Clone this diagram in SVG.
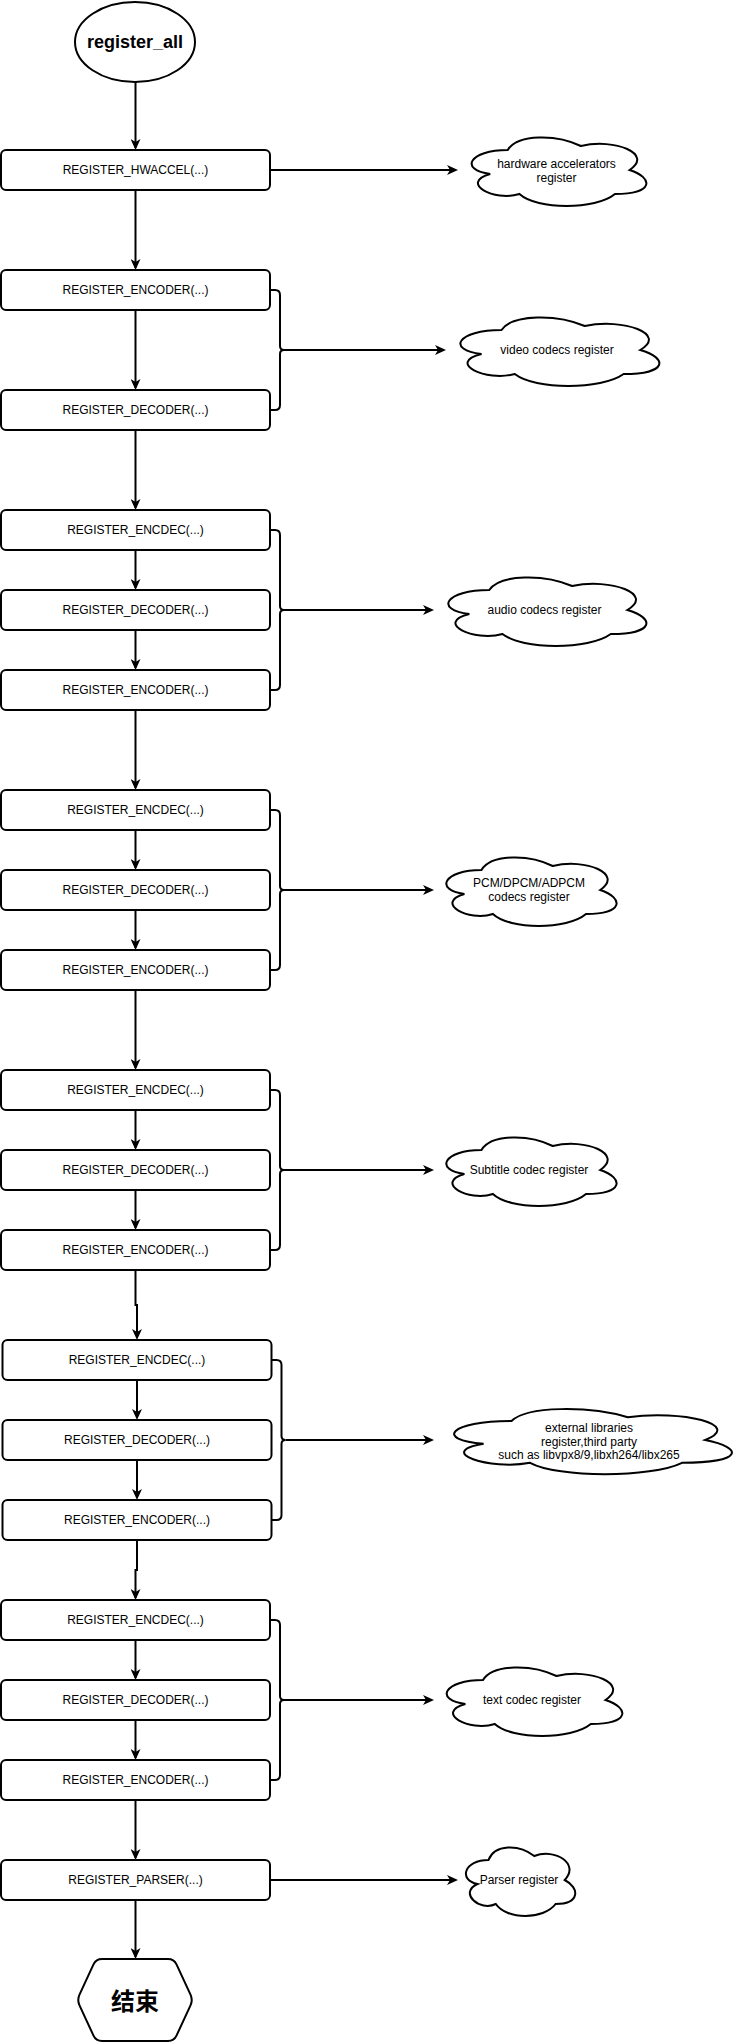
<svg xmlns="http://www.w3.org/2000/svg" width="742" height="2042" viewBox="0 0 742 2042">
<style>
.box{fill:#fff;stroke:#000;stroke-width:2}
.ln{fill:none;stroke:#000;stroke-width:2}
.arr{fill:none;stroke:#000;stroke-width:2;marker-end:url(#ah)}
.t{font-family:"Liberation Sans",Arial,sans-serif;font-size:12px;fill:#000;text-anchor:middle}
.cl{fill:#fff;stroke:#000;stroke-width:2}
</style>
<defs>
<marker id="ah" viewBox="0 0 11 10" refX="9" refY="5" markerWidth="11" markerHeight="10" markerUnits="userSpaceOnUse" orient="auto"><path d="M0,0 L11,5 L0,10 L3,5 Z" fill="#000"/></marker>
</defs>
<rect width="742" height="2042" fill="#fff"/>

<g id="connectors">
<path class="arr" d="M135.5,82 V148"/>
<path class="arr" d="M135.5,190 V268"/>
<path class="arr" d="M135.5,310 V388"/>
<path class="arr" d="M135.5,430 V508"/>
<path class="arr" d="M135.5,550 V588"/>
<path class="arr" d="M135.5,630 V668"/>
<path class="arr" d="M135.5,710 V788"/>
<path class="arr" d="M135.5,830 V868"/>
<path class="arr" d="M135.5,910 V948"/>
<path class="arr" d="M135.5,990 V1068"/>
<path class="arr" d="M135.5,1110 V1148"/>
<path class="arr" d="M135.5,1190 V1228"/>
<path class="arr" d="M135.5,1270 V1305 H137 V1338"/>
<path class="arr" d="M137,1380 V1418"/>
<path class="arr" d="M137,1460 V1498"/>
<path class="arr" d="M137,1540 V1570 H135.5 V1598"/>
<path class="arr" d="M135.5,1640 V1678"/>
<path class="arr" d="M135.5,1720 V1758"/>
<path class="arr" d="M135.5,1800 V1858"/>
<path class="arr" d="M135.5,1900 V1957"/>
<path class="arr" d="M270,170 H456"/>
<path class="arr" d="M284,350 H444"/>
<path class="arr" d="M284,610 H432"/>
<path class="arr" d="M284,890 H432"/>
<path class="arr" d="M284,1170 H432"/>
<path class="arr" d="M285.5,1440 H432"/>
<path class="arr" d="M284,1700 H432"/>
<path class="arr" d="M270,1880 H456"/>
</g>

<g id="braces">
<path class="ln" d="M270,290 H275 Q280,290 280,295 V346 Q280,350 284,350 Q280,350 280,354 V405 Q280,410 275,410 H270"/>
<path class="ln" d="M270,530 H275 Q280,530 280,535 V606 Q280,610 284,610 Q280,610 280,614 V685 Q280,690 275,690 H270"/>
<path class="ln" d="M270,810 H275 Q280,810 280,815 V886 Q280,890 284,890 Q280,890 280,894 V965 Q280,970 275,970 H270"/>
<path class="ln" d="M270,1090 H275 Q280,1090 280,1095 V1166 Q280,1170 284,1170 Q280,1170 280,1174 V1245 Q280,1250 275,1250 H270"/>
<path class="ln" d="M271.5,1360 H276.5 Q281.5,1360 281.5,1365 V1436 Q281.5,1440 285.5,1440 Q281.5,1440 281.5,1444 V1515 Q281.5,1520 276.5,1520 H271.5"/>
<path class="ln" d="M270,1620 H275 Q280,1620 280,1625 V1696 Q280,1700 284,1700 Q280,1700 280,1704 V1775 Q280,1780 275,1780 H270"/>
</g>

<g id="start">
<ellipse class="box" cx="135" cy="42" rx="60" ry="40"/>
<text x="135" y="48" font-family="Liberation Sans,Arial,sans-serif" font-size="18" font-weight="bold" text-anchor="middle">register_all</text>
</g>

<g id="hwaccel"><rect class="box" x="1" y="150" width="269" height="40" rx="5"/><text class="t" x="135.5" y="174">REGISTER_HWACCEL(...)</text></g>

<g id="v_encoder"><rect class="box" x="1" y="270" width="269" height="40" rx="5"/><text class="t" x="135.5" y="294">REGISTER_ENCODER(...)</text></g>
<g id="v_decoder"><rect class="box" x="1" y="390" width="269" height="40" rx="5"/><text class="t" x="135.5" y="414">REGISTER_DECODER(...)</text></g>

<g id="a_encdec"><rect class="box" x="1" y="510" width="269" height="40" rx="5"/><text class="t" x="135.5" y="534">REGISTER_ENCDEC(...)</text></g>
<g id="a_decoder"><rect class="box" x="1" y="590" width="269" height="40" rx="5"/><text class="t" x="135.5" y="614">REGISTER_DECODER(...)</text></g>
<g id="a_encoder"><rect class="box" x="1" y="670" width="269" height="40" rx="5"/><text class="t" x="135.5" y="694">REGISTER_ENCODER(...)</text></g>

<g id="p_encdec"><rect class="box" x="1" y="790" width="269" height="40" rx="5"/><text class="t" x="135.5" y="814">REGISTER_ENCDEC(...)</text></g>
<g id="p_decoder"><rect class="box" x="1" y="870" width="269" height="40" rx="5"/><text class="t" x="135.5" y="894">REGISTER_DECODER(...)</text></g>
<g id="p_encoder"><rect class="box" x="1" y="950" width="269" height="40" rx="5"/><text class="t" x="135.5" y="974">REGISTER_ENCODER(...)</text></g>

<g id="s_encdec"><rect class="box" x="1" y="1070" width="269" height="40" rx="5"/><text class="t" x="135.5" y="1094">REGISTER_ENCDEC(...)</text></g>
<g id="s_decoder"><rect class="box" x="1" y="1150" width="269" height="40" rx="5"/><text class="t" x="135.5" y="1174">REGISTER_DECODER(...)</text></g>
<g id="s_encoder"><rect class="box" x="1" y="1230" width="269" height="40" rx="5"/><text class="t" x="135.5" y="1254">REGISTER_ENCODER(...)</text></g>

<g id="e_encdec"><rect class="box" x="2.5" y="1340" width="269" height="40" rx="5"/><text class="t" x="137" y="1364">REGISTER_ENCDEC(...)</text></g>
<g id="e_decoder"><rect class="box" x="2.5" y="1420" width="269" height="40" rx="5"/><text class="t" x="137" y="1444">REGISTER_DECODER(...)</text></g>
<g id="e_encoder"><rect class="box" x="2.5" y="1500" width="269" height="40" rx="5"/><text class="t" x="137" y="1524">REGISTER_ENCODER(...)</text></g>

<g id="t_encdec"><rect class="box" x="1" y="1600" width="269" height="40" rx="5"/><text class="t" x="135.5" y="1624">REGISTER_ENCDEC(...)</text></g>
<g id="t_decoder"><rect class="box" x="1" y="1680" width="269" height="40" rx="5"/><text class="t" x="135.5" y="1704">REGISTER_DECODER(...)</text></g>
<g id="t_encoder"><rect class="box" x="1" y="1760" width="269" height="40" rx="5"/><text class="t" x="135.5" y="1784">REGISTER_ENCODER(...)</text></g>

<g id="parser"><rect class="box" x="1" y="1860" width="269" height="40" rx="5"/><text class="t" x="135.5" y="1884">REGISTER_PARSER(...)</text></g>

<g id="end">
<path class="box" d="M102,1959 H168 Q174,1959 176.5,1964.4 L190.5,1994.6 Q193,2000 190.5,2005.4 L176.5,2035.6 Q174,2041 168,2041 H102 Q96,2041 93.5,2035.6 L79.5,2005.4 Q77,2000 79.5,1994.6 L93.5,1964.4 Q96,1959 102,1959 Z"/>
<text x="135" y="2010" font-family="Liberation Sans,Noto Sans CJK SC,sans-serif" font-size="24" font-weight="bold" text-anchor="middle">结束</text>
</g>

<g id="cloud_hw">
<path class="cl" vector-effect="non-scaling-stroke" transform="translate(459,130) scale(1.95,0.8)" d="M25,25 C5,25 0,50 16,55 C0,66 18,90 31,80 C40,100 70,100 80,80 C100,80 100,60 87.5,50 C100,30 80,10 62.5,20 C50,5 30,5 25,25 Z"/>
<text class="t" x="556.5" y="168">hardware accelerators</text><text class="t" x="556.5" y="182">register</text>
</g>
<g id="cloud_video">
<path class="cl" vector-effect="non-scaling-stroke" transform="translate(446,310) scale(2.22,0.8)" d="M25,25 C5,25 0,50 16,55 C0,66 18,90 31,80 C40,100 70,100 80,80 C100,80 100,60 87.5,50 C100,30 80,10 62.5,20 C50,5 30,5 25,25 Z"/>
<text class="t" x="557" y="354">video codecs register</text>
</g>
<g id="cloud_audio">
<path class="cl" vector-effect="non-scaling-stroke" transform="translate(434,570) scale(2.21,0.8)" d="M25,25 C5,25 0,50 16,55 C0,66 18,90 31,80 C40,100 70,100 80,80 C100,80 100,60 87.5,50 C100,30 80,10 62.5,20 C50,5 30,5 25,25 Z"/>
<text class="t" x="544.5" y="614">audio codecs register</text>
</g>
<g id="cloud_pcm">
<path class="cl" vector-effect="non-scaling-stroke" transform="translate(434,850) scale(1.9,0.8)" d="M25,25 C5,25 0,50 16,55 C0,66 18,90 31,80 C40,100 70,100 80,80 C100,80 100,60 87.5,50 C100,30 80,10 62.5,20 C50,5 30,5 25,25 Z"/>
<text class="t" x="529" y="887">PCM/DPCM/ADPCM</text><text class="t" x="529" y="901">codecs register</text>
</g>
<g id="cloud_subtitle">
<path class="cl" vector-effect="non-scaling-stroke" transform="translate(434,1130) scale(1.9,0.8)" d="M25,25 C5,25 0,50 16,55 C0,66 18,90 31,80 C40,100 70,100 80,80 C100,80 100,60 87.5,50 C100,30 80,10 62.5,20 C50,5 30,5 25,25 Z"/>
<text class="t" x="529" y="1174">Subtitle codec register</text>
</g>
<g id="cloud_external">
<path class="cl" vector-effect="non-scaling-stroke" transform="translate(434,1402) scale(3.1,0.76)" d="M25,25 C5,25 0,50 16,55 C0,66 18,90 31,80 C40,100 70,100 80,80 C100,80 100,60 87.5,50 C100,30 80,10 62.5,20 C50,5 30,5 25,25 Z"/>
<text class="t" x="589" y="1432">external libraries</text><text class="t" x="589" y="1445.5">register,third party</text><text class="t" x="589" y="1459">such as libvpx8/9,libxh264/libx265</text>
</g>
<g id="cloud_text">
<path class="cl" vector-effect="non-scaling-stroke" transform="translate(434,1660) scale(1.96,0.8)" d="M25,25 C5,25 0,50 16,55 C0,66 18,90 31,80 C40,100 70,100 80,80 C100,80 100,60 87.5,50 C100,30 80,10 62.5,20 C50,5 30,5 25,25 Z"/>
<text class="t" x="532" y="1704">text codec register</text>
</g>
<g id="cloud_parser">
<path class="cl" vector-effect="non-scaling-stroke" transform="translate(458,1840) scale(1.22,0.8)" d="M25,25 C5,25 0,50 16,55 C0,66 18,90 31,80 C40,100 70,100 80,80 C100,80 100,60 87.5,50 C100,30 80,10 62.5,20 C50,5 30,5 25,25 Z"/>
<text class="t" x="519" y="1884">Parser register</text>
</g>
</svg>
